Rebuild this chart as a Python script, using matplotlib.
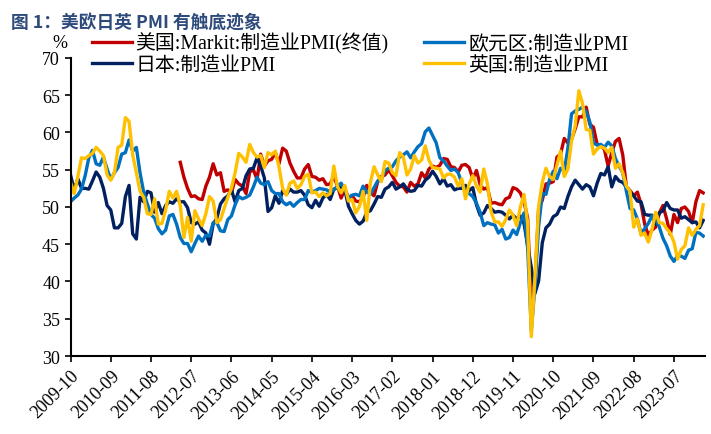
import matplotlib.pyplot as plt
import numpy as np

# 月份: 2009-10 ~ 2024-03
months = [f"{y}-{m:02d}" for y in range(2009, 2025) for m in range(1, 13)]
months = months[months.index("2009-10"):months.index("2024-03") + 1]

# 欧元区:制造业PMI
ez = [50.7, 51.2, 51.6,
      52.4, 54.2, 56.6, 57.6, 55.8, 55.6, 56.7, 55.1, 53.7, 54.6, 55.3, 57.1,
      57.3, 59.0, 57.5, 58.0, 54.6, 52.0, 50.4, 49.0, 48.5, 47.1, 46.4, 46.9,
      48.8, 49.0, 47.7, 45.9, 45.1, 45.1, 44.0, 45.1, 46.1, 45.4, 46.2, 46.1,
      47.9, 47.9, 46.8, 46.7, 48.3, 48.8, 50.3, 51.4, 51.1, 51.3, 51.6, 52.7,
      54.0, 53.2, 53.0, 53.4, 52.2, 51.8, 51.8, 50.7, 50.3, 50.6, 50.1, 50.6,
      51.0, 51.0, 52.2, 52.0, 52.2, 52.5, 52.4, 52.3, 52.0, 52.3, 52.8, 53.2,
      52.3, 51.2, 51.6, 51.7, 51.5, 52.8, 52.0, 51.7, 52.6, 53.5, 53.7, 54.9,
      55.2, 55.4, 56.2, 56.7, 57.0, 57.4, 56.6, 57.4, 58.1, 58.5, 60.1, 60.6,
      59.6, 58.6, 56.6, 56.2, 55.5, 54.9, 55.1, 54.6, 53.2, 52.0, 51.8, 51.4,
      50.5, 49.3, 47.5, 47.9, 47.7, 47.6, 46.5, 47.0, 45.7, 45.9, 46.9, 46.3,
      47.9, 49.2, 44.5, 33.4, 39.4, 47.4, 51.8, 51.7, 53.7, 54.8, 53.8, 55.2,
      54.8, 57.9, 62.5, 62.9, 63.1, 63.4, 62.8, 61.4, 58.6, 58.3, 58.4, 58.0,
      58.7, 58.2, 56.5, 55.5, 54.6, 52.1, 49.8, 49.6, 48.4, 46.4, 47.1, 47.8,
      48.8, 48.5, 47.3, 45.8, 44.8, 43.4, 42.7, 43.5, 43.4, 43.1, 44.2, 44.4,
      46.6, 46.5, 46.1]

# 英国:制造业PMI
uk = [53.3, 51.8, 54.1,
      56.6, 56.5, 56.9, 57.2, 58.0, 57.5, 56.9, 54.3, 53.6, 54.6, 58.0, 58.3,
      62.0, 61.5, 57.0, 54.6, 52.1, 51.3, 49.1, 49.0, 51.1, 47.7, 47.8, 49.6,
      52.1, 51.2, 52.1, 50.2, 45.9, 48.6, 45.4, 49.5, 48.4, 47.5, 49.1, 51.4,
      50.8, 47.9, 48.3, 49.8, 51.3, 52.5, 54.6, 57.2, 56.7, 56.0, 58.4, 57.3,
      56.7, 56.9, 55.3, 57.3, 57.0, 57.5, 55.4, 52.5, 51.6, 53.2, 53.5, 52.5,
      53.0, 54.1, 54.4, 51.9, 52.0, 51.4, 51.9, 51.5, 51.8, 55.5, 52.7, 51.9,
      52.9, 50.8, 51.0, 49.2, 50.1, 52.1, 48.2, 53.3, 55.4, 54.3, 53.4, 56.1,
      55.9, 54.6, 54.2, 57.3, 56.7, 54.3, 55.1, 56.9, 55.9, 56.3, 58.2, 56.3,
      55.3, 55.2, 55.1, 53.9, 54.4, 54.4, 54.0, 52.8, 53.8, 51.1, 53.1, 54.2,
      52.8, 52.0, 55.1, 53.1, 49.4, 48.0, 48.0, 47.4, 48.3, 49.6, 48.9, 47.5,
      50.0, 51.7, 47.8, 32.6, 40.7, 50.1, 53.3, 55.2, 54.1, 53.7, 55.6, 57.5,
      54.1, 55.1, 58.9, 60.9, 65.6, 63.9, 60.4, 60.3, 57.1, 57.8, 58.1, 57.9,
      57.3, 58.0, 55.2, 55.8, 54.6, 52.8, 52.1, 47.3, 48.4, 46.2, 46.5, 45.3,
      47.0, 49.3, 47.9, 47.8, 47.1, 46.5, 45.3, 43.0, 44.3, 44.8, 47.2, 46.2,
      47.0, 47.5, 50.3]

# 日本:制造业PMI
jp = [54.3, 52.3, 53.8,
      52.5, 52.5, 52.4, 53.5, 54.7, 54.0, 52.5, 50.2, 49.6, 47.2, 47.2, 47.8,
      51.4, 52.9, 46.4, 45.7, 51.3, 50.7, 52.1, 51.9, 49.3, 50.6, 49.1, 50.2,
      50.7, 50.5, 51.1, 50.7, 50.7, 49.9, 47.9, 47.7, 48.0, 46.9, 46.5, 45.0,
      47.7, 48.5, 50.4, 51.1, 51.5, 52.3, 50.7, 52.2, 52.5, 54.2, 55.1, 55.2,
      56.6, 55.5, 53.9, 49.4, 49.9, 51.5, 50.5, 52.2, 51.7, 52.4, 52.0, 52.0,
      52.2, 51.6, 50.3, 49.9, 50.9, 50.1, 51.2, 51.7, 51.0, 52.4, 52.6, 52.6,
      52.3, 50.1, 49.1, 48.2, 47.7, 48.1, 49.3, 49.5, 50.4, 51.4, 51.3, 52.4,
      52.7, 53.3, 52.4, 52.7, 53.1, 52.4, 52.1, 52.2, 52.9, 52.8, 53.6, 54.0,
      54.8, 54.1, 53.1, 53.8, 52.8, 53.0, 52.3, 52.5, 52.5, 52.9, 52.2, 52.6,
      50.3, 48.9, 49.2, 50.2, 49.8, 49.3, 49.4, 49.3, 48.9, 48.4, 48.9, 48.4,
      48.8, 47.8, 44.8, 41.9, 38.4, 40.1, 45.2, 47.2, 47.7, 48.7, 49.0, 50.0,
      49.8, 51.4, 52.7, 53.6, 53.0, 52.4, 53.0, 52.7, 51.5, 53.2, 54.5, 54.3,
      55.4, 52.7, 54.1, 53.5, 53.3, 52.7, 52.1, 51.5, 50.8, 50.7, 49.0, 48.9,
      48.9, 47.7, 49.2, 49.5, 50.6, 49.8, 49.6, 49.6, 48.5, 48.7, 48.3, 47.9,
      48.0, 47.2, 48.2]

# 美国:Markit:制造业PMI(终值), 2012-04 起
us = [np.nan] * 30 + [
      56.0, 54.0, 52.5, 51.4, 51.5, 51.1, 51.0, 52.8, 54.0,
      55.8, 54.3, 54.6, 52.1, 52.3, 51.9, 53.7, 53.1, 52.8, 51.8, 54.7, 55.0,
      53.7, 57.1, 55.5, 56.2, 56.4, 57.3, 55.8, 57.9, 57.5, 55.9, 54.8, 53.9,
      53.9, 55.1, 55.7, 54.1, 54.0, 53.6, 53.8, 53.0, 53.1, 54.1, 52.8, 51.2,
      52.4, 51.3, 51.5, 50.8, 50.7, 51.3, 52.9, 52.0, 51.5, 53.4, 54.1, 54.3,
      55.0, 54.2, 53.3, 52.8, 52.7, 52.0, 53.3, 52.8, 53.1, 54.6, 53.9, 55.1,
      55.5, 55.3, 55.6, 56.5, 56.4, 55.4, 55.3, 54.7, 55.6, 55.7, 55.3, 53.8,
      54.9, 53.0, 52.4, 52.6, 50.5, 50.6, 50.4, 50.3, 51.1, 51.3, 52.6, 52.4,
      51.9, 50.7, 48.5, 36.1, 39.8, 49.8, 50.9, 53.1, 53.2, 53.4, 56.7, 57.1,
      59.2, 58.6, 59.1, 60.5, 62.1, 62.1, 63.4, 61.1, 60.7, 58.4, 58.3, 57.7,
      55.5, 57.3, 58.8, 59.2, 57.0, 52.7, 52.2, 51.5, 52.0, 50.4, 47.7, 46.2,
      46.9, 47.3, 49.2, 50.2, 48.4, 46.3, 49.0, 47.9, 49.8, 50.0, 49.4, 47.9,
      50.7, 52.2, 51.9]

x = np.arange(len(months))

plt.rcParams['font.family'] = ['Liberation Serif', 'Noto Sans CJK SC']

fig = plt.figure(figsize=(7.11, 4.35), dpi=100)
ax = fig.add_axes([0.0992, 0.1793, 0.8924, 0.6851])

ax.plot(x, us, color='#C00000', lw=2.4, label='美国:Markit:制造业PMI(终值)')
ax.plot(x, jp, color='#002060', lw=2.4, label='日本:制造业PMI')
ax.plot(x, ez, color='#0070C0', lw=2.4, label='欧元区:制造业PMI')
ax.plot(x, uk, color='#FFC000', lw=2.4, label='英国:制造业PMI')

ax.set_xlim(0, 173.5)
ax.set_ylim(30, 70)
ax.set_yticks(range(30, 71, 5))
ax.set_xticks(x[::11])
ax.set_xticklabels(months[::11], rotation=45, ha='right', rotation_mode='anchor')
ax.tick_params(labelsize=13, direction='out', length=4, width=1.2, colors='black')
ax.tick_params(axis='x', pad=4)
ax.spines['top'].set_visible(False)
ax.spines['right'].set_visible(False)
ax.spines['left'].set_linewidth(1.5)
ax.spines['bottom'].set_linewidth(1.5)

fig.text(0.073, 0.901, '%', fontsize=13, ha='left', va='center')
fig.legend(loc='upper left', bbox_to_anchor=(0.118, 0.942), ncol=2, frameon=False,
           fontsize=14.3, handlelength=2.0, handletextpad=0.2, columnspacing=1.8,
           labelspacing=0.1, borderaxespad=0)

fig.text(0.016, 0.968, '图 1：美欧日英 PMI 有触底迹象', fontsize=12.8, fontweight='bold',
         color='#2F4B7C', family=['Noto Sans CJK SC'], ha='left', va='top')

fig.savefig('out.png', dpi=100)
